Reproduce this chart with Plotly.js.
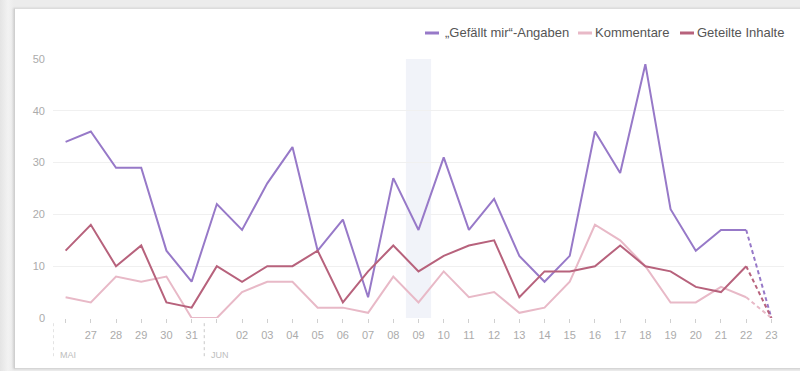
<!DOCTYPE html>
<html>
<head>
<meta charset="utf-8">
<script src="https://cdn.plot.ly/plotly-3.0.1.min.js"></script>
<style>
  html, body { margin:0; padding:0; width:800px; height:371px; overflow:hidden;
    background: linear-gradient(to right, #e4e4e4 0px, #f2f2f2 8px, #ececec 14px); }
  #panel { position:absolute; left:14px; top:8px; width:800px; height:359px; background:#fff;
    border-left:1px solid #cfcfcf; border-top:1px solid #dcdcdc; border-bottom:1px solid #d6d6d6;
    box-shadow: -1px 0 2px rgba(0,0,0,0.12); }
  #chart { position:absolute; left:0; top:0; width:800px; height:371px; }
</style>
</head>
<body>
<div id="panel"></div>
<div id="chart"></div>
<script>
// Days 26 May – 23 June
const dayLabels = ["", "27", "28", "29", "30", "31", "", "02", "03", "04", "05", "06", "07", "08", "09",
  "10", "11", "12", "13", "14", "15", "16", "17", "18", "19", "20", "21", "22", "23"];
const likes    = [34, 36, 29, 29, 13, 7, 22, 17, 26, 33, 13, 19, 4, 27, 17, 31, 17, 23, 12, 7, 12, 36, 28, 49, 21, 13, 17, 17, 0];
const comments = [4, 3, 8, 7, 8, 0, 0, 5, 7, 7, 2, 2, 1, 8, 3, 9, 4, 5, 1, 2, 7, 18, 15, 10, 3, 3, 6, 4, 0];
const shares   = [13, 18, 10, 14, 3, 2, 10, 7, 10, 10, 13, 3, 9, 14, 9, 12, 14, 15, 4, 9, 9, 10, 14, 10, 9, 6, 5, 10, 0];
const seriesNames = ["\u201EGef\u00E4llt mir\u201C-Angaben", "Kommentare", "Geteilte Inhalte"];
const monthLabels = ["MAI", "JUN"];
const monthStart = [0, 6];
const highlightDay = 14;

const colors = ["#9779c8", "#e8b9c7", "#b7627c"];
const xs = dayLabels.map((_, i) => i);
const n = xs.length;
const data = [];
[likes, comments, shares].forEach((s, k) => {
  data.push({
    x: xs.slice(0, n - 1), y: s.slice(0, n - 1), type: "scatter", mode: "lines", showlegend: false,
    name: seriesNames[k], line: {color: colors[k], width: 2}, cliponaxis: false, hoverinfo: "y"
  });
});
[likes, comments, shares].forEach((s, k) => {
  data.push({
    x: xs.slice(n - 2), y: s.slice(n - 2), type: "scatter", mode: "lines", showlegend: false,
    line: {color: colors[k], width: 2, dash: "4px,3px"}, cliponaxis: false, hoverinfo: "y"
  });
});

const shapes = [{
  type: "rect", xref: "x", yref: "y", x0: highlightDay - 0.5, x1: highlightDay + 0.5, y0: 0, y1: 50,
  fillcolor: "#f1f3f9", line: {width: 0}, layer: "below"
}];
const annotations = [];
monthStart.forEach((d, i) => {
  shapes.push({type: "line", xref: "x", yref: "paper", x0: d - 0.5, x1: d - 0.5, y0: -0.02, y1: -0.15,
    line: {color: "#c8c8c8", width: 1, dash: "dot"}});
  annotations.push({xref: "x", yref: "paper", x: d - 0.5, y: -0.115, xanchor: "left", yanchor: "top",
    xshift: 5, text: monthLabels[i], showarrow: false, font: {size: 9, color: "#bdbdbd"}});
});

// legend drawn as short line + label (paper coords)
const plotL = 53, plotW = 731, plotB = 318, plotH = 259;
const legendLineStart = [425, 578, 680];
const legendTextStart = [443, 593, 695];
const legendY = (plotB - 33) / plotH;
seriesNames.forEach((name, k) => {
  shapes.push({type: "line", xref: "paper", yref: "paper",
    x0: (legendLineStart[k] - plotL) / plotW, x1: (legendLineStart[k] + 14 - plotL) / plotW,
    y0: legendY, y1: legendY, line: {color: colors[k], width: 3}});
  annotations.push({xref: "paper", yref: "paper", x: (legendTextStart[k] - plotL) / plotW, y: legendY,
    xanchor: "left", yanchor: "middle", text: name, showarrow: false,
    font: {size: 13, color: "#555"}});
});

const layout = {
  width: 800, height: 371,
  margin: {l: 53, r: 16, t: 59, b: 53},
  paper_bgcolor: "rgba(0,0,0,0)", plot_bgcolor: "rgba(0,0,0,0)",
  font: {family: "Liberation Sans, Arial, sans-serif", color: "#555"},
  showlegend: false,
  xaxis: {range: [-0.5, n - 0.5], tickmode: "array", tickvals: xs, ticktext: dayLabels,
    ticks: "outside", ticklen: 4, tickcolor: "#d0d0d0", showgrid: false, zeroline: false,
    showline: false, ticklabelstandoff: 3, tickfont: {size: 11, color: "#ababab"}, fixedrange: true},
  yaxis: {range: [0, 50], tickvals: [0, 10, 20, 30, 40, 50], showgrid: true, gridcolor: "#f0f0f0",
    zeroline: false, showline: false, ticks: "", ticklabelstandoff: 7,
    tickfont: {size: 11, color: "#ababab"}, fixedrange: true},
  shapes: shapes, annotations: annotations
};
Plotly.newPlot("chart", data, layout, {displayModeBar: false, staticPlot: true});
</script>
</body>
</html>
